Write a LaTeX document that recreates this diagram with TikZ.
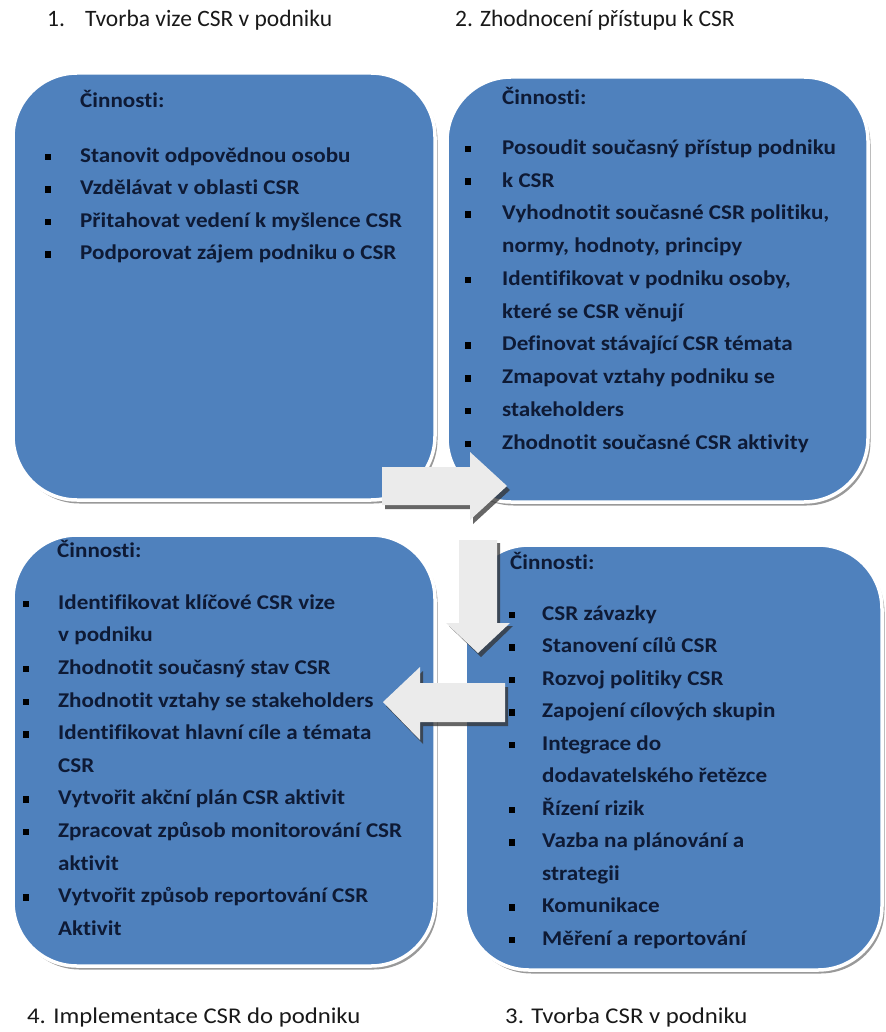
\documentclass[tikz,border=0pt]{standalone}
\usepackage{fontspec}
\setmainfont{Carlito}[FakeStretch=1.1, Ligatures=NoCommon]
\newfontfamily\plainfont{Carlito}[Ligatures=NoCommon]
\definecolor{boxblue}{HTML}{4F81BD}
\definecolor{txt}{HTML}{0E1A35}
\definecolor{arr}{HTML}{EBEBEB}
\newcommand\mkpanel[5]{%
  \fill[panelshadow] (#2+2.5,#3+3.5) rectangle (#4+2.5,#5+3.5);
  \node[panel, minimum width={(#4-#2)*1pt}, minimum height={(#5-#3)*1pt}] (#1) at ({(#2+#4)/2},{(#3+#5)/2}) {};}
\begin{document}
\begin{tikzpicture}[x=1pt,y=-1pt,
  panel/.style={fill=boxblue, draw=white, line width=3.5pt, rounded corners=64pt, inner sep=0pt, outer sep=0pt},
  panelshadow/.style={fill=black!40, rounded corners=64pt},
  ln/.style={anchor=mid west, inner sep=0pt, font=\fontsize{21}{25}\selectfont\bfseries, text=txt},
  ttl/.style={anchor=mid west, inner sep=0pt, font=\fontsize{22.5}{27}\selectfont, text=black!90},
  ttltop/.style={ttl, font=\plainfont\fontsize{23.5}{28}\selectfont},
  bul/.style={fill=black, minimum size=6.5pt, inner sep=0pt},
  blk/.style={fill=arr, draw=none},
  blkshadow/.style={fill=black!80, opacity=0.75}
]
\useasboundingbox (0,0) rectangle (885,1032);
\fill[white] (0,0) rectangle (885,1032);

% titles
\node[ttltop] (t1n) at (47,24.5) {1.};
\node[ttltop] (t1) at (85,24.5) {Tvorba vize CSR v podniku};
\node[ttltop] (t2) at (455,24.5) {2. Zhodnocení přístupu k CSR};
\node[ttl] (t4) at (27,1021) {4. Implementace CSR do podniku};
\node[ttl] (t3) at (505,1021) {3. Tvorba CSR v podniku};

% panels 1 and 2
\mkpanel{p1}{13}{73}{435}{500}
\mkpanel{p2}{447}{77}{868}{502}

\node[ln] (c1) at (80,105) {Činnosti:};
\foreach \t [count=\i from 0] in {Stanovit odpovědnou osobu, Vzdělávat v oblasti CSR, Přitahovat vedení k myšlence CSR, Podporovat zájem podniku o CSR}{
  \node[ln] (p1l\i) at (80,160+32.5*\i) {\t};
  \node[bul] (p1b\i) at (48,157+32.5*\i) {};
}

\node[ln] (c2) at (502,102) {Činnosti:};
\foreach \b/\t [count=\i from 0] in {1/{Posoudit současný přístup podniku}, 1/{k CSR}, 1/{Vyhodnotit současné CSR politiku,}, 0/{normy, hodnoty, principy}, 1/{Identifikovat v podniku osoby,}, 0/{které se CSR věnují}, 1/{Definovat stávající CSR témata}, 1/{Zmapovat vztahy podniku se}, 1/{stakeholders}, 1/{Zhodnotit současné CSR aktivity}}{
  \node[ln] (p2l\i) at (502,152+32.75*\i) {\t};
  \ifnum\b=1 \node[bul] (p2b\i) at (468,149+32.75*\i) {};\fi
}

% right arrow
\fill[blkshadow] (385,471) -- (473,471) -- (473,456) -- (510,490) -- (473,524) -- (473,509) -- (385,509) -- cycle;
\fill[blk] (382,467) -- (470,467) -- (470,452) -- (507,486) -- (470,520) -- (470,505) -- (382,505) -- cycle;

% panels 3 and 4
\mkpanel{p3}{13}{535}{435}{966}
\mkpanel{p4}{465}{545}{882}{970}

\node[ln] (c3) at (57,555) {Činnosti:};
\foreach \b/\t [count=\i from 0] in {1/{Identifikovat klíčové CSR vize}, 0/{v podniku}, 1/{Zhodnotit současný stav CSR}, 1/{Zhodnotit vztahy se stakeholders}, 1/{Identifikovat hlavní cíle a témata}, 0/{CSR}, 1/{Vytvořit akční plán CSR aktivit}, 1/{Zpracovat způsob monitorování CSR}, 0/{aktivit}, 1/{Vytvořit způsob reportování CSR}, 0/{Aktivit}}{
  \node[ln] (p3l\i) at (58,607+32.6*\i) {\t};
  \ifnum\b=1 \node[bul] (p3b\i) at (26,604+32.6*\i) {};\fi
}

\node[ln] (c4) at (510,567) {Činnosti:};
\foreach \b/\t [count=\i from 0] in {1/{CSR závazky}, 1/{Stanovení cílů CSR}, 1/{Rozvoj politiky CSR}, 1/{Zapojení cílových skupin}, 1/{Integrace do}, 0/{dodavatelského řetězce}, 1/{Řízení rizik}, 1/{Vazba na plánování a}, 0/{strategii}, 1/{Komunikace}, 1/{Měření a reportování}}{
  \node[ln] (p4l\i) at (542,618+32.5*\i) {\t};
  \ifnum\b=1 \node[bul] (p4b\i) at (512,615+32.5*\i) {};\fi
}

% down arrow
\fill[blkshadow] (462,543) -- (500,543) -- (500,626) -- (513,626) -- (481,657) -- (449,626) -- (462,626) -- cycle;
\fill[blk] (459,540) -- (497,540) -- (497,623) -- (510,623) -- (478,653) -- (446,623) -- (459,623) -- cycle;

% left arrow
\fill[blkshadow] (508,687) -- (423,687) -- (423,671) -- (386,706) -- (423,744) -- (423,726) -- (508,726) -- cycle;
\fill[blk] (505,683) -- (420,683) -- (420,667) -- (383,702) -- (420,740) -- (420,722) -- (505,722) -- cycle;
\end{tikzpicture}
\end{document}
